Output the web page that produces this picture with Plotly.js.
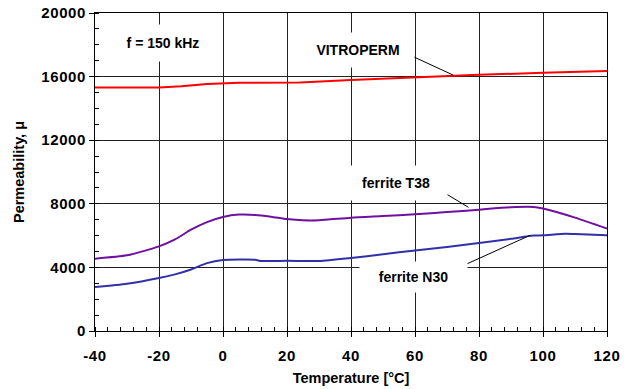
<!DOCTYPE html>
<html><head><meta charset="utf-8">
<script src="https://cdn.plot.ly/plotly-3.0.1.min.js"></script>
<style>html,body{margin:0;padding:0;background:#fff;}#chart{width:627px;height:389px;}
.xtick text,.ytick text{letter-spacing:0.6px;}
</style>
</head><body><div id="chart"></div>
<script>
const vitroT = [-40, -20, -13, -5, 5, 24, 40, 60, 75, 80, 100, 120];
const vitroMu = [15320, 15320, 15400, 15530, 15610, 15630, 15780, 15950, 16075, 16110, 16240, 16350];

const t38T = [-40, -30, -20, -15, -10, -5, 0, 5, 10, 15, 20, 25, 30, 40, 50, 60, 70, 80, 90, 97, 100, 110, 120];
const t38Mu = [4550, 4760, 5320, 5760, 6370, 6850, 7170, 7320, 7300, 7190, 7040, 6960, 6960, 7130, 7230, 7340, 7480, 7630, 7780, 7800, 7700, 7130, 6440];

const n30T = [-40, -30, -20, -15, -10, -5, 0, 10, 12, 20, 30, 40, 50, 60, 70, 80, 90, 97, 100, 107, 110, 120];
const n30Mu = [2760, 2970, 3330, 3560, 3870, 4270, 4460, 4480, 4400, 4420, 4400, 4590, 4820, 5070, 5280, 5530, 5800, 6000, 6020, 6120, 6100, 6020];

const xTickVals = [-40, -20, 0, 20, 40, 60, 80, 100, 120];
const xTickText = ["-40", "-20", "0", "20", "40", "60", "80", "100", "120"];
const yTickVals = [0, 4000, 8000, 12000, 16000, 20000];
const yTickText = ["0", "4000", "8000", "12000", "16000", "20000"];

const labels = ["f = 150 kHz", "VITROPERM", "ferrite T38", "ferrite N30"];

const traces = [
  {x: vitroT, y: vitroMu, mode: 'lines', line: {color: '#ff0000', width: 2}, name: 'VITROPERM'},
  {x: t38T, y: t38Mu, mode: 'lines', line: {color: '#7010a0', width: 2, shape: 'spline', smoothing: 0.6}, name: 'ferrite T38'},
  {x: n30T, y: n30Mu, mode: 'lines', line: {color: '#3030a8', width: 2, shape: 'spline', smoothing: 0.6}, name: 'ferrite N30'}
];

const tickFont = {family: 'Liberation Sans, Arial, sans-serif', size: 15, color: '#000', weight: 'bold'};
const titleFont = {family: 'Liberation Sans, Arial, sans-serif', size: 14.5, color: '#000', weight: 'bold'};
const annFont = {family: 'Liberation Sans, Arial, sans-serif', size: 14, color: '#000', weight: 'bold'};

const layout = {
  width: 627, height: 389,
  margin: {l: 95, r: 20, t: 13, b: 58},
  paper_bgcolor: '#fff', plot_bgcolor: '#fff',
  showlegend: false,
  xaxis: {
    range: [-40, 120], tickmode: 'array', tickvals: xTickVals, ticktext: xTickText,
    showgrid: true, gridcolor: '#222', gridwidth: 1,
    zeroline: false, showline: true, linecolor: '#000', linewidth: 1, mirror: true,
    ticks: 'outside', ticklen: 5, tickcolor: '#000',
    minor: {dtick: 4, tick0: -40, ticks: 'inside', ticklen: 4, tickcolor: '#000', showgrid: false},
    tickfont: tickFont, ticklabelstandoff: 6,
    title: {text: 'Temperature [°C]', font: titleFont, standoff: 9}
  },
  yaxis: {
    range: [0, 20000], tickmode: 'array', tickvals: yTickVals, ticktext: yTickText,
    showgrid: true, gridcolor: '#222', gridwidth: 1,
    zeroline: false, showline: true, linecolor: '#000', linewidth: 1, mirror: true,
    ticks: 'outside', ticklen: 5, tickcolor: '#000',
    minor: {dtick: 1000, tick0: 0, ticks: 'inside', ticklen: 4, tickcolor: '#000', showgrid: false},
    tickfont: tickFont,
    title: {text: 'Permeability, μ', font: titleFont, standoff: 13}
  },
  annotations: [
    {x: -18.6, y: 18110, text: labels[0], showarrow: false, font: annFont, bgcolor: '#fff', width: 100, height: 34},
    {x: 42.3, y: 17670, text: labels[1], showarrow: false, font: annFont, bgcolor: '#fff', width: 110, height: 32},
    {x: 54.2, y: 9290, text: labels[2], showarrow: false, font: annFont, bgcolor: '#fff', width: 100, height: 32},
    {x: 59.5, y: 3390, text: labels[3], showarrow: false, font: annFont, bgcolor: '#fff', width: 105, height: 28}
  ],
  shapes: [
    {type: 'line', xref: 'x', yref: 'y', x0: 57, y0: 17480, x1: 72, y1: 16090, line: {color: '#000', width: 1}},
    {type: 'line', xref: 'x', yref: 'y', x0: 66.3, y0: 9040, x1: 76.7, y1: 7780, line: {color: '#000', width: 1}},
    {type: 'line', xref: 'x', yref: 'y', x0: 71.7, y0: 3810, x1: 96, y1: 6020, line: {color: '#000', width: 1}}
  ]
};

Plotly.newPlot('chart', traces, layout, {displayModeBar: false, staticPlot: true});
</script>
</body></html>
